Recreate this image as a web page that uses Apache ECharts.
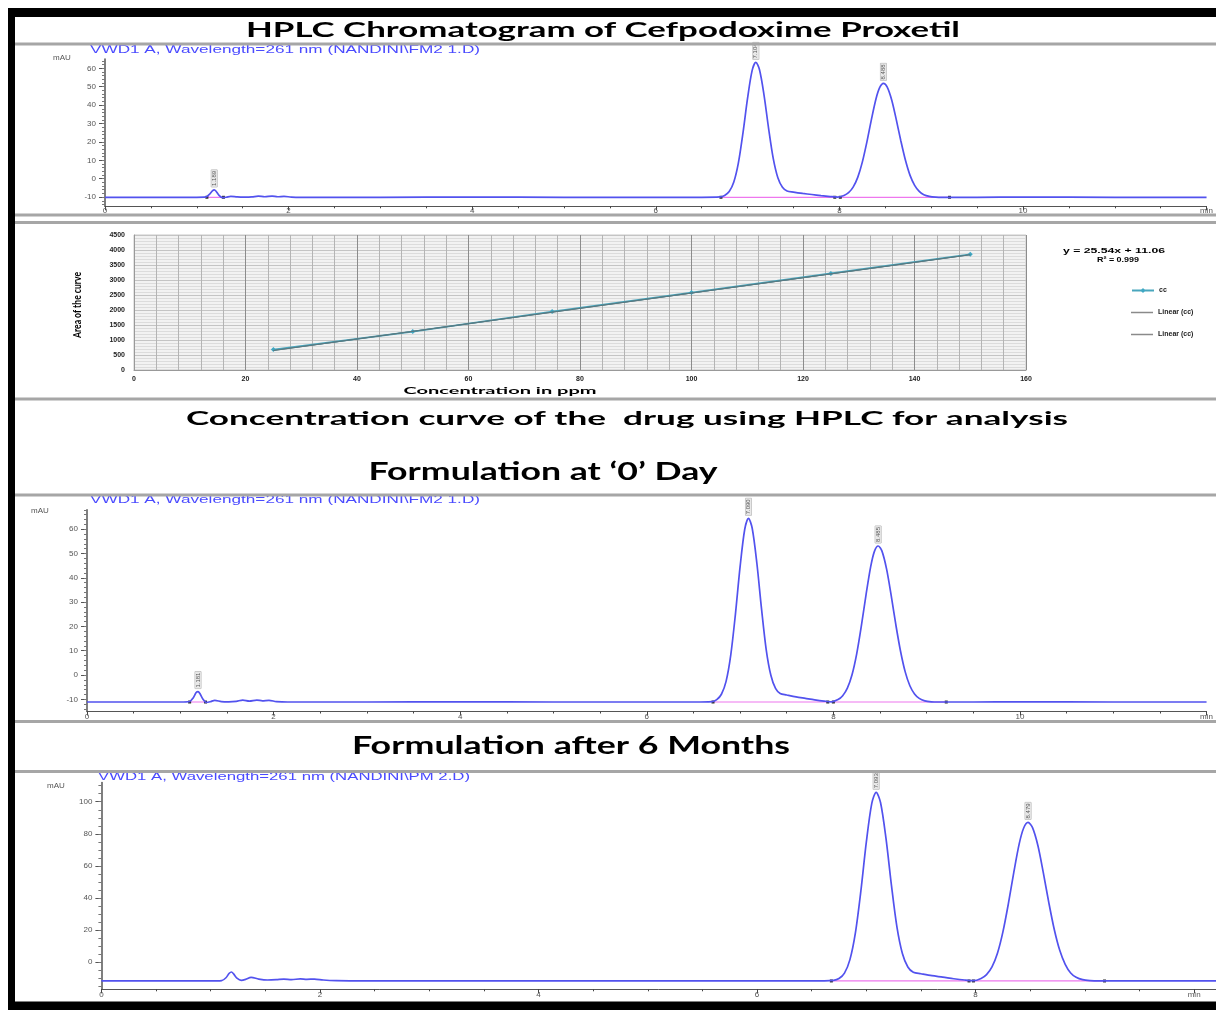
<!DOCTYPE html>
<html>
<head>
<meta charset="utf-8">
<title>HPLC Chromatogram of Cefpodoxime Proxetil</title>
<script src="https://cdn.jsdelivr.net/npm/echarts@6.0.0/dist/echarts.min.js"></script>
<style>
  html, body { margin: 0; padding: 0; background: #fff; }
  #chart { width: 1216px; height: 1010px; }
</style>
</head>
<body>
<div id="chart"></div>
<script>
// retention times (min), shared by the three chromatograms
const retTimes = [0, 0.5, 1.0, 1.10, 1.14, 1.17, 1.19, 1.21, 1.24, 1.28, 1.32, 1.37, 1.44, 1.52, 1.60, 1.67, 1.74, 1.82, 1.88, 1.95, 2.03, 2.15, 2.4, 3.0, 4.0, 5.0, 6.0, 6.5,
  6.70, 6.75, 6.80, 6.85, 6.90, 6.95, 7.00, 7.05, 7.09, 7.13, 7.18, 7.23, 7.28, 7.33, 7.38, 7.43, 7.50, 7.60, 7.70, 7.80, 7.90, 7.98,
  8.05, 8.10, 8.15, 8.20, 8.25, 8.30, 8.35, 8.40, 8.44, 8.48, 8.52, 8.57, 8.62, 8.67, 8.72, 8.77, 8.82, 8.87, 8.92, 8.98, 9.05, 9.12, 9.2, 9.5, 10.0, 11.0, 12.0];

// signal in mAU, standard
const stdSignal = [-10.1, -10.1, -10.1, -9.9, -8.4, -6.6, -6.1, -6.8, -8.9, -10.3, -10.1, -9.6, -9.9, -10.0, -9.9, -9.5, -9.8, -9.5, -9.8, -9.6, -10.0, -10.1, -10.1, -10.1, -10.0, -10.1, -10.1, -10.1,
  -9.9, -9.1, -7.0, -1.8, 8.6, 24.9, 43.8, 58.9, 63.2, 59.2, 45.2, 27.0, 10.9, 0.5, -4.7, -6.7, -7.3, -8.0, -8.6, -9.2, -9.7, -10.0,
  -9.1, -7.6, -4.6, 0.7, 9.0, 20.0, 32.4, 43.6, 49.6, 51.8, 49.9, 42.8, 32.1, 20.5, 10.0, 1.8, -3.6, -6.9, -8.7, -9.6, -10.0, -10.1, -10.1, -10.1, -10.0, -10.1, -10.1];
// formulation at '0' day
const day0Signal = [-11.1, -11.1, -11.1, -10.9, -9.3, -7.2, -6.8, -7.6, -9.8, -11.3, -11.0, -10.4, -10.9, -11.0, -10.8, -10.3, -10.7, -10.3, -10.6, -10.4, -10.9, -11.1, -11.1, -11.1, -11.0, -11.1, -11.1, -11.1,
  -10.9, -10.1, -7.9, -2.6, 8.2, 25.0, 44.5, 60.0, 64.5, 60.4, 46.0, 27.2, 10.5, -0.1, -5.5, -7.6, -8.2, -9.0, -9.6, -10.2, -10.7, -11.0,
  -10.1, -8.5, -5.4, 0.1, 8.7, 20.2, 33.0, 44.6, 50.9, 53.1, 51.1, 43.7, 32.7, 20.6, 9.8, 1.3, -4.4, -7.8, -9.6, -10.6, -11.0, -11.1, -11.1, -11.1, -11.0, -11.1, -11.1];
// formulation after 6 months
const month6Signal = [-11.8, -11.8, -11.8, -11.6, -9.8, -7.0, -6.2, -7.4, -10.0, -11.4, -10.8, -9.5, -10.6, -11.2, -11.0, -10.6, -11.0, -10.5, -10.8, -10.6, -11.2, -11.6, -11.8, -11.8, -11.8, -11.7, -11.8, -11.8,
  -11.4, -10.3, -6.9, 1.5, 18.2, 44.3, 74.8, 99.0, 105.9, 99.5, 77.1, 47.8, 21.9, 5.3, -3.1, -6.4, -7.3, -8.5, -9.4, -10.4, -11.2, -11.6,
  -10.2, -7.8, -3.0, 5.5, 18.8, 36.4, 56.1, 74.0, 83.6, 87.1, 84.0, 72.7, 55.6, 37.1, 20.3, 7.3, -1.4, -6.8, -9.5, -11.0, -11.6, -11.8, -11.8, -11.8, -11.8, -11.8, -11.8];

// integration baselines: [start, end] in min, and their level
const stdBaseline = [[1.11, 1.29], [6.71, 7.95], [8.01, 9.20]];
const stdLevel = -10.1;
const day0Baseline = [[1.10, 1.27], [6.71, 7.94], [8.00, 9.21]];
const day0Level = -11.1;
const month6Baseline = [[6.68, 7.94], [7.98, 9.18]];
const month6Level = -11.8;

// peak apexes and their retention time tags
const stdPeaks = [[1.19, -6.1], [7.09, 63.2], [8.48, 51.8]];
const stdPeakText = ['1.189', '7.104', '8.488'];
const day0Peaks = [[1.19, -6.8], [7.09, 64.5], [8.48, 53.1]];
const day0PeakText = ['1.181', '7.090', '8.485'];
const month6Peaks = [[7.09, 105.9], [8.48, 87.1]];
const month6PeakText = ['7.093', '8.479'];

// tick labels
const chromYLabels = [-10, 0, 10, 20, 30, 40, 50, 60];
const month6YLabels = [0, 20, 40, 60, 80, 100];
const chromXLabels = [0, 2, 4, 6, 8, 10, 12];
const month6XLabels = [0, 2, 4, 6, 8, 10];

// calibration curve
const calConc = [25, 50, 75, 100, 125, 150];
const calArea = [680, 1280, 1950, 2580, 3220, 3860];
const trendConc = [25, 150];
const trendArea = [650, 3842];

const chart = echarts.init(document.getElementById('chart'));

const grids = [];
const xAxes = [];
const yAxes = [];
const series = [];

const steps = (from, to, step) => {
  const out = [];
  for (let v = from; v <= to + 1e-9; v += step) out.push(+v.toFixed(2));
  return out;
};

const labelFont = { fontSize: 8, color: '#555', fontFamily: 'Liberation Sans' };

function addChrom(cfg) {
  const g = grids.length;
  grids.push({ left: cfg.left, top: cfg.top, width: cfg.width, height: cfg.height });
  const xi = xAxes.length;
  const yi = yAxes.length;
  const lastX = cfg.xLabels[cfg.xLabels.length - 1];

  xAxes.push({
    gridIndex: g, type: 'value', position: 'bottom', min: 0, max: cfg.xMax,
    axisLine: { onZero: false, lineStyle: { color: '#555', width: 1 } },
    axisTick: { customValues: steps(0, cfg.xMax, 0.5), length: 2, lineStyle: { color: '#444' } },
    axisLabel: { customValues: cfg.xLabels, margin: cfg.xMargin, ...labelFont, formatter: (v) => (v === lastX ? 'min' : String(v)) },
    splitLine: { show: false },
  });
  // longer ticks under the labelled minutes
  xAxes.push({
    gridIndex: g, type: 'value', position: 'bottom', min: 0, max: cfg.xMax,
    axisLine: { show: false, onZero: false },
    axisTick: { customValues: cfg.xLabels, length: 4, lineStyle: { color: '#444' } },
    axisLabel: { show: false },
    splitLine: { show: false },
  });

  yAxes.push({
    gridIndex: g, type: 'value', position: 'left', min: cfg.yMin, max: cfg.yMax,
    axisLine: { show: true, onZero: false, lineStyle: { color: '#555', width: 1.5 } },
    axisTick: { customValues: cfg.yLabels, length: 6, lineStyle: { color: '#555' } },
    axisLabel: { customValues: cfg.yLabels, margin: 9, ...labelFont },
    splitLine: { show: false },
  });
  // minor ticks
  yAxes.push({
    gridIndex: g, type: 'value', position: 'left', min: cfg.yMin, max: cfg.yMax,
    axisLine: { show: false, onZero: false },
    axisTick: { customValues: steps(Math.ceil(cfg.yMin / cfg.yMinor) * cfg.yMinor, cfg.yMax, cfg.yMinor), length: 3, lineStyle: { color: '#777' } },
    axisLabel: { show: false },
    splitLine: { show: false },
  });

  series.push({
    type: 'line', xAxisIndex: xi, yAxisIndex: yi,
    data: retTimes.map((t, i) => [t, cfg.signal[i]]),
    showSymbol: false, smooth: 0.3, silent: true,
    lineStyle: { color: '#5252ee', width: 1.7 },
    z: 3,
  });

  cfg.baseline.forEach(([a, b]) => {
    series.push({
      type: 'line', xAxisIndex: xi, yAxisIndex: yi,
      data: [[a, cfg.level], [b, cfg.level]],
      symbol: 'rect', symbolSize: 3, silent: true,
      itemStyle: { color: '#333' },
      lineStyle: { color: '#ee77ee', width: 1.2 },
      z: 2,
    });
  });

  series.push({
    type: 'scatter', xAxisIndex: xi, yAxisIndex: yi,
    data: cfg.peaks.map((p, i) => ({ value: p, label: { formatter: cfg.peakText[i] } })),
    symbolSize: 0, silent: true,
    label: {
      show: true, position: 'top', distance: 3, rotate: 90, align: 'left', verticalAlign: 'middle',
      fontSize: 6, color: '#333', fontFamily: 'Liberation Sans',
      backgroundColor: '#e2e2e2', borderColor: '#aaa', borderWidth: 0.5, padding: [0, 1],
    },
    z: 4,
  });
}

// standard chromatogram
addChrom({
  left: 105, top: 59.1, width: 12 * 92.3, height: 147.2, xMax: 12, xMargin: 0,
  yMin: -15, yMax: 65, yLabels: chromYLabels, yMinor: 2, xLabels: chromXLabels,
  signal: stdSignal, baseline: stdBaseline, level: stdLevel, peaks: stdPeaks, peakText: stdPeakText,
});

// calibration curve
const calGrid = grids.length;
grids.push({ left: 134, top: 235, width: 892, height: 135, show: true, backgroundColor: '#f2f2f2', borderColor: '#c8c8c8', borderWidth: 1 });
const calX = xAxes.length;
const calY = yAxes.length;
const calLabel = { fontSize: 7, fontWeight: 'bold', color: '#222', fontFamily: 'Liberation Sans', formatter: (v) => String(v) };
xAxes.push({
  gridIndex: calGrid, type: 'value', min: 0, max: 160, interval: 20,
  axisLine: { lineStyle: { color: '#999' } },
  axisTick: { show: false },
  axisLabel: { ...calLabel, margin: 6 },
  splitLine: { show: true, lineStyle: { color: '#8c8c8c', width: 1 } },
  minorTick: { show: false, splitNumber: 5 },
  minorSplitLine: { show: true, lineStyle: { color: '#b4b4b4', width: 1 } },
});
yAxes.push({
  gridIndex: calGrid, type: 'value', min: 0, max: 4500, interval: 500,
  axisLine: { show: true, lineStyle: { color: '#999' } },
  axisTick: { show: false },
  axisLabel: { ...calLabel, margin: 9 },
  splitLine: { show: true, lineStyle: { color: '#c4c4c4', width: 1 } },
  minorTick: { show: false, splitNumber: 5 },
  minorSplitLine: { show: true, lineStyle: { color: '#dcdcdc', width: 1 } },
});
series.push({
  name: 'cc', type: 'line', xAxisIndex: calX, yAxisIndex: calY,
  data: calConc.map((c, i) => [c, calArea[i]]),
  symbol: 'diamond', symbolSize: 5,
  itemStyle: { color: '#3fa8c4' },
  lineStyle: { color: '#49a6bd', width: 1.6 },
  z: 3,
});
['Linear (cc)', 'Linear (cc) '].forEach((name) => {
  series.push({
    name, type: 'line', xAxisIndex: calX, yAxisIndex: calY,
    data: trendConc.map((c, i) => [c, trendArea[i]]),
    symbol: 'none',
    itemStyle: { color: '#8a8a8a' },
    lineStyle: { color: '#587a82', width: 1.2 },
    z: 4,
  });
});

// formulation at '0' day
addChrom({
  left: 87, top: 509.8, width: 12 * 94.8, height: 201.7, xMax: 12, xMargin: 1,
  yMin: -15, yMax: 68, yLabels: chromYLabels, yMinor: 2, xLabels: chromXLabels,
  signal: day0Signal, baseline: day0Baseline, level: day0Level, peaks: day0Peaks, peakText: day0PeakText,
});

// formulation after 6 months
addChrom({
  left: 101.4, top: 782.5, width: 10.2 * 110, height: 206.8, xMax: 10.2, xMargin: 1,
  yMin: -17, yMax: 112, yLabels: month6YLabels, yMinor: 5, xLabels: month6XLabels,
  signal: month6Signal, baseline: month6Baseline, level: month6Level, peaks: month6Peaks, peakText: month6PeakText,
});

// stretched text, fitted to the width it has in the figure
const measureCtx = document.createElement('canvas').getContext('2d');
function fitText(text, x, y, font, width, opts = {}) {
  measureCtx.font = font;
  const sx = width / measureCtx.measureText(text).width;
  const align = opts.align || 'center';
  return {
    type: 'text', x, y, scaleX: sx, rotation: opts.rotation || 0, z: 50,
    style: { text, font, fill: opts.fill || '#000', textAlign: align, align, textVerticalAlign: 'middle', verticalAlign: 'middle' },
  };
}
const bar = (x, y, w, h, fill) => ({ type: 'rect', shape: { x, y, width: w, height: h }, style: { fill }, z: 100 });
const smallText = (text, x, y, font, fill) => ({
  type: 'text', x, y, z: 50,
  style: { text, font, fill, textAlign: 'center', align: 'center', textVerticalAlign: 'middle', verticalAlign: 'middle' },
});

const graphic = [
  // panel separators
  bar(14, 42.5, 1202, 3, '#a6a6a6'),
  bar(14, 213.5, 1202, 3, '#a6a6a6'),
  bar(14, 221, 1202, 3, '#a6a6a6'),
  bar(14, 397.5, 1202, 3, '#a6a6a6'),
  bar(14, 493.5, 1202, 3, '#a6a6a6'),
  bar(14, 720, 1202, 3, '#a6a6a6'),
  bar(14, 770, 1202, 3, '#a6a6a6'),
  // black frame
  bar(8, 8, 1208, 9, '#000'),
  bar(8, 8, 7, 1002, '#000'),
  bar(8, 1001.5, 1208, 9, '#000'),

  fitText('HPLC Chromatogram of Cefpodoxime Proxetil', 603, 30, 'bold 21px Lato', 714),
  fitText('Concentration curve of the  drug using HPLC for analysis', 627, 419, 'bold 19px Lato', 882),
  fitText('Formulation at \u20180\u2019 Day', 543, 472, 'bold 24px Lato', 349),
  fitText('Formulation after 6 Months', 571, 746, 'bold 24px Lato', 438),

  fitText('VWD1 A, Wavelength=261 nm (NANDINI\\FM2 1.D)', 90, 50, '11px Liberation Sans', 390, { align: 'left', fill: '#4a4aff' }),
  fitText('VWD1 A, Wavelength=261 nm (NANDINI\\FM2 1.D)', 90, 500, '11px Liberation Sans', 390, { align: 'left', fill: '#4a4aff' }),
  fitText('VWD1 A, Wavelength=261 nm (NANDINI\\PM 2.D)', 98, 777, '11px Liberation Sans', 372, { align: 'left', fill: '#4a4aff' }),

  smallText('mAU', 62, 58, '8px Liberation Sans', '#555'),
  smallText('mAU', 40, 511, '8px Liberation Sans', '#555'),
  smallText('mAU', 56, 786, '8px Liberation Sans', '#555'),

  fitText('Concentration in ppm', 500, 391, 'bold 9px Lato', 193),
  fitText('Area of the curve', 77, 305, 'bold 12px Lato', 66, { rotation: Math.PI / 2 }),
  fitText('y = 25.54x + 11.06', 1114, 251, 'bold 8px Liberation Sans', 102),
  fitText('R\u00b2 = 0.999', 1118, 260, 'bold 8px Liberation Sans', 42),
];

const legendText = { fontSize: 7, fontWeight: 'bold', color: '#222', fontFamily: 'Liberation Sans' };

chart.setOption({
  animation: false,
  backgroundColor: '#fff',
  grid: grids,
  xAxis: xAxes,
  yAxis: yAxes,
  legend: [
    {
      data: ['cc'], orient: 'vertical', left: 1126, top: 282,
      itemWidth: 22, itemHeight: 6, selectedMode: false, textStyle: legendText,
    },
    {
      data: [{ name: 'Linear (cc)', icon: 'rect' }, { name: 'Linear (cc) ', icon: 'rect' }],
      orient: 'vertical', left: 1126, top: 304,
      itemWidth: 22, itemHeight: 1.5, itemGap: 15, selectedMode: false,
      formatter: (n) => n.trim(), textStyle: legendText,
    },
  ],
  series,
  graphic,
});
</script>
</body>
</html>
